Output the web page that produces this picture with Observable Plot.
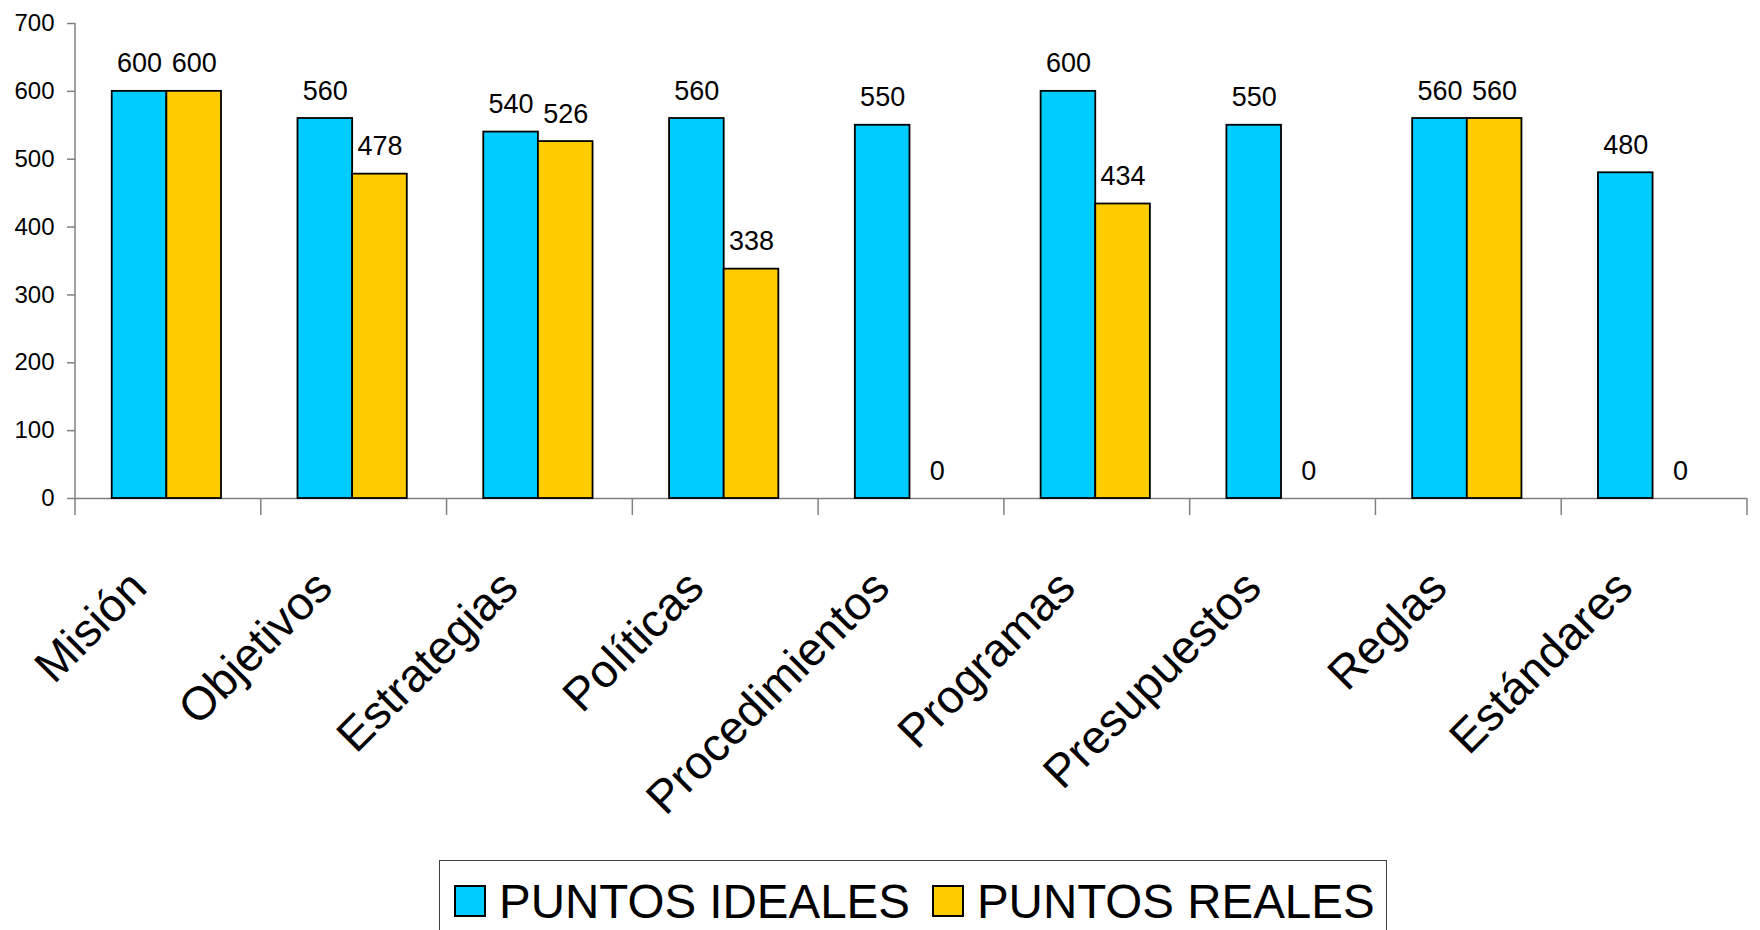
<!DOCTYPE html>
<html>
<head>
<meta charset="utf-8">
<script src="https://cdn.jsdelivr.net/npm/d3@7"></script>
<script src="https://cdn.jsdelivr.net/npm/@observablehq/plot@0.6"></script>
<style>
  html, body { margin: 0; padding: 0; background: #fff; overflow: hidden; width: 1760px; height: 930px; }
  #chart svg { display: block; }
  #legend {
    position: absolute; left: 439px; top: 860px; width: 948px; height: 82px;
    border: 1.5px solid #404040; box-sizing: border-box; background: #fff;
    display: flex; align-items: center; padding-left: 14px;
    font-family: "Liberation Sans", Arial, sans-serif; font-size: 47.5px; color: #000;
  }
  .item { display: flex; align-items: center; margin-right: 22px; white-space: nowrap; }
  .sw { width: 32px; height: 32px; border: 2px solid #000; box-sizing: border-box; margin-right: 13px; }
</style>
</head>
<body>
<div id="chart"></div>
<div id="legend"></div>
<script>
const categories = ["Misión", "Objetivos", "Estrategias", "Políticas", "Procedimientos", "Programas", "Presupuestos", "Reglas", "Estándares"];
const idealValues = [600, 560, 540, 560, 550, 600, 550, 560, 480];
const realValues  = [600, 478, 526, 338, 0, 434, 0, 560, 0];
const seriesNames = ["PUNTOS IDEALES", "PUNTOS REALES"];
const seriesColors = ["#00CCFF", "#FFCC00"];
const yTicks = [0, 100, 200, 300, 400, 500, 600, 700];

const rows = categories.flatMap((c, i) => [
  {category: c, series: seriesNames[0], value: idealValues[i]},
  {category: c, series: seriesNames[1], value: realValues[i]}
]);

const font = "'Liberation Sans', Arial, sans-serif";

const plot = Plot.plot({
  width: 1760,
  height: 855,
  marginLeft: 75,
  marginRight: 13,
  marginTop: 23,
  marginBottom: 357,
  style: {fontFamily: font, background: "#fff", color: "#000", overflow: "visible"},
  fx: {domain: categories, padding: 0, round: false},
  x: {domain: seriesNames, paddingInner: 0, paddingOuter: 0.7, align: 0.48, round: false, axis: null},
  y: {domain: [0, 700]},
  color: {domain: seriesNames, range: seriesColors},
  marks: [
    Plot.ruleY([0], {stroke: "#808080", strokeWidth: 1.5}),
    Plot.barY(rows, {fx: "category", x: "series", y: "value", fill: "series", stroke: "#000", strokeWidth: 1.8}),
    Plot.text(rows, {fx: "category", x: "series", y: "value", text: d => String(d.value), dy: -19, lineAnchor: "bottom", fontSize: 27, fill: "#000"}),
    Plot.axisY({ticks: yTicks, tickSize: 8, tickPadding: 13, fontSize: 24, stroke: "#808080", strokeWidth: 1.5, label: null}),
    Plot.axisFx({anchor: "bottom", tickSize: 0, tickRotate: -45, tickPadding: 81, dx: -30, fontSize: 46.5, label: null})
  ]
});

document.getElementById("chart").appendChild(plot);

// Axis line and between-category tick marks, positioned with Plot's own scales
const fxS = plot.scale("fx"), yS = plot.scale("y");
const y0 = yS.apply(0), yTop = yS.apply(yTicks[yTicks.length - 1]);
const tickLen = 17;
const bounds = categories.map(c => fxS.apply(c)).concat([fxS.apply(categories[categories.length - 1]) + fxS.bandwidth]);
const g = d3.select(plot).append("g").attr("stroke", "#808080").attr("stroke-width", 1.5);
g.append("line").attr("x1", bounds[0]).attr("x2", bounds[0]).attr("y1", yTop).attr("y2", y0 + tickLen);
g.selectAll("line.b").data(bounds.slice(1)).join("line").attr("class", "b")
  .attr("x1", d => d).attr("x2", d => d).attr("y1", y0).attr("y2", y0 + tickLen);

// Legend
const legend = d3.select("#legend");
seriesNames.forEach((s, i) => {
  const it = legend.append("div").attr("class", "item");
  it.append("div").attr("class", "sw").style("background", seriesColors[i]);
  it.append("span").text(s);
});
</script>
</body>
</html>
